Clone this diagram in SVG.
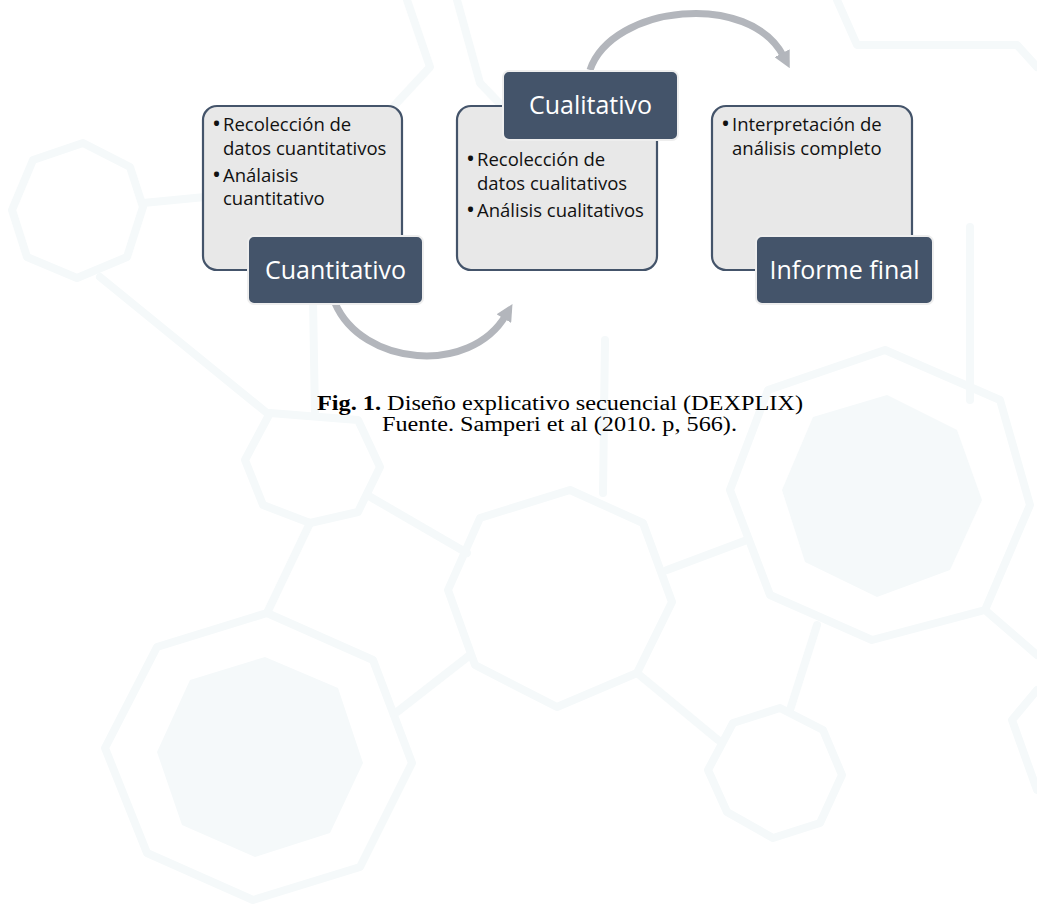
<svg xmlns="http://www.w3.org/2000/svg" width="1037" height="911" viewBox="0 0 1037 911">
<defs>
<style>
.bg{fill:none;stroke:#f5f9fa;stroke-width:8;stroke-linejoin:round;stroke-linecap:round}
.bgf{fill:#f5f9fa;stroke:none}
.card{fill:#e8e8e8;stroke:#44546a;stroke-width:2.2}
.lab{fill:#44546a;stroke:#eeeeee;stroke-width:2}
.body{font-family:"Open Sans","Liberation Sans",sans-serif;font-size:18.5px;fill:#111}
.dot{font-size:24px}
.title{font-family:"Open Sans","Liberation Sans",sans-serif;font-size:25px;fill:#ffffff;text-anchor:middle}
.cap{font-family:"Liberation Serif","Times New Roman",serif;font-size:20px;fill:#000}
.arc{fill:none;stroke:#b3b6bc;stroke-width:7}
</style>
<marker id="head" viewBox="0 0 16 16" refX="4" refY="8" markerWidth="17" markerHeight="17" markerUnits="userSpaceOnUse" orient="auto">
<path d="M0,0 L16,8 L0,16 z" fill="#b3b6bc"/>
</marker>
</defs>
<rect width="1037" height="911" fill="#ffffff"/>
<g id="background">
<polygon class="bg" points="12,210 33,160 83,143 130,167 143,207 127,257 77,278 27,257"/>
<line class="bg" x1="143" y1="203" x2="205" y2="197"/>
<line class="bg" x1="100" y1="277" x2="267" y2="413"/>
<polyline class="bg" points="407,0 430,67 393,107"/>
<polyline class="bg" points="457,0 480,83 503,107"/>
<line class="bg" x1="313" y1="300" x2="315" y2="416"/>
<polygon class="bg" points="245,460 270,413 358,420 380,467 358,512 310,523 263,505"/>
<line class="bg" x1="310" y1="523" x2="267" y2="613"/>
<polygon class="bg" points="105,748 157,647 267,613 373,660 412,763 360,867 253,900 147,853"/>
<polygon class="bgf" points="157,752 190,680 265,657 338,688 363,763 330,833 255,857 182,825"/>
<line class="bg" x1="367" y1="495" x2="467" y2="553"/>
<polygon class="bg" points="448,590 480,518 570,490 643,523 672,602 637,673 557,707 475,665"/>
<line class="bg" x1="470" y1="655" x2="397" y2="712"/>
<line class="bg" x1="605" y1="340" x2="603" y2="493"/>
<line class="bg" x1="637" y1="673" x2="718" y2="740"/>
<polygon class="bg" points="708,770 733,723 780,708 823,730 842,775 820,823 773,838 727,812"/>
<line class="bg" x1="747" y1="540" x2="667" y2="570"/>
<polygon class="bg" points="730,490 768,390 885,350 1000,400 1030,505 985,610 872,640 770,595"/>
<polygon class="bgf" points="782,490 813,417 887,395 957,430 982,500 950,570 877,597 805,562"/>
<line class="bg" x1="817" y1="625" x2="790" y2="710"/>
<line class="bg" x1="985" y1="610" x2="1037" y2="655"/>
<polyline class="bg" points="1037,690 1012,720 1037,790"/>
<polyline class="bg" points="837,0 857,45 1017,45 1037,67"/>
<line class="bg" x1="970" y1="227" x2="970" y2="400"/>
</g>
<g id="connectors">
<path class="arc" d="M335,303 C362,366 470,376 506,315" marker-end="url(#head)"/>
<path class="arc" d="M590,70 C612,5 750,-10 784,57" marker-end="url(#head)"/>
</g>
<g id="node-cuantitativo">
<rect class="card" x="203" y="106" width="199" height="164" rx="14"/>
<text class="body"><tspan class="dot" x="212" y="132">•</tspan><tspan x="223" y="131">Recolección de</tspan></text>
<text class="body" x="223" y="155">datos cuantitativos</text>
<text class="body"><tspan class="dot" x="212" y="183">•</tspan><tspan x="223" y="182">Análaisis</tspan></text>
<text class="body" x="223" y="205">cuantitativo</text>
<rect class="lab" x="248" y="236" width="175" height="68" rx="6"/>
<text class="title" x="335.5" y="279">Cuantitativo</text>
</g>
<g id="node-cualitativo">
<rect class="card" x="457" y="106" width="200" height="164" rx="14"/>
<text class="body"><tspan class="dot" x="466" y="167">•</tspan><tspan x="477" y="166">Recolección de</tspan></text>
<text class="body" x="477" y="190">datos cualitativos</text>
<text class="body"><tspan class="dot" x="466" y="218">•</tspan><tspan x="477" y="217">Análisis cualitativos</tspan></text>
<rect class="lab" x="503" y="71" width="175" height="69" rx="6"/>
<text class="title" x="590.5" y="114">Cualitativo</text>
</g>
<g id="node-informe">
<rect class="card" x="712" y="106" width="200" height="164" rx="14"/>
<text class="body"><tspan class="dot" x="721" y="132">•</tspan><tspan x="732" y="131">Interpretación de</tspan></text>
<text class="body" x="732" y="155">análisis completo</text>
<rect class="lab" x="756" y="236" width="177" height="68" rx="6"/>
<text class="title" x="844.5" y="279">Informe final</text>
</g>
<g id="caption">
<text class="cap" x="317" y="410" textLength="486" lengthAdjust="spacingAndGlyphs"><tspan font-weight="bold">Fig. 1.</tspan> Diseño explicativo secuencial (DEXPLIX)</text>
<text class="cap" x="382" y="431" textLength="355" lengthAdjust="spacingAndGlyphs">Fuente. Samperi et al (2010. p, 566).</text>
</g>
</svg>
